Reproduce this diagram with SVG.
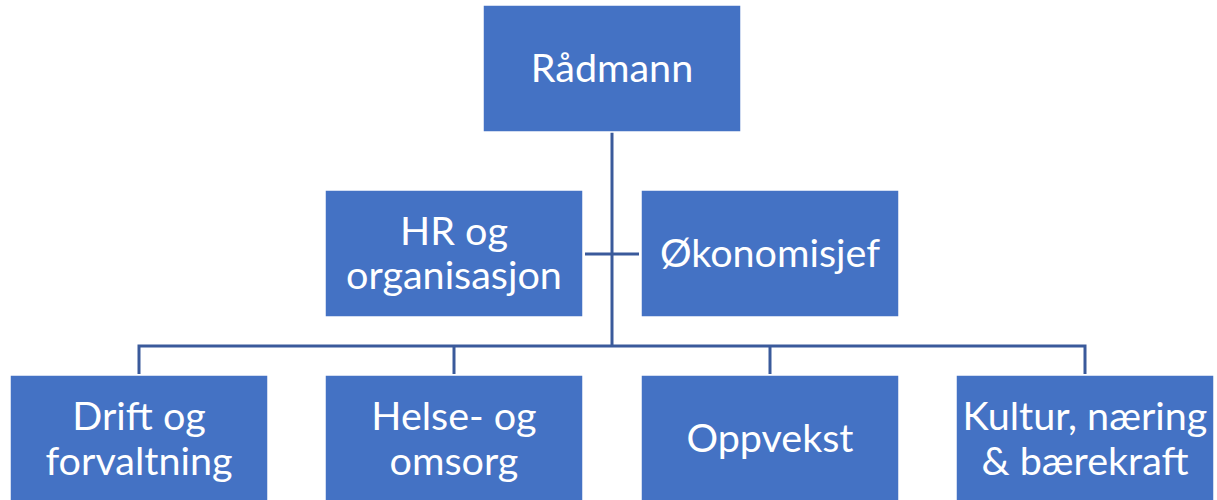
<svg xmlns="http://www.w3.org/2000/svg" width="1217" height="500" viewBox="0 0 1217 500">
<style>
.box{fill:#4472C4;stroke:#ffffff;stroke-width:1.5}
.lbl{font-family:Lato,"Liberation Sans",sans-serif;font-size:39.5px;fill:#ffffff;text-anchor:middle}
.con{stroke:#3A5A9B;stroke-width:3;fill:none}
</style>
<rect width="1217" height="500" fill="#ffffff"/>
<g id="connectors">
<path class="con" d="M612 132 V346"/>
<path class="con" d="M585 254 H639"/>
<path class="con" d="M139 374 V346 H1085 V374"/>
<path class="con" d="M454 346 V374"/>
<path class="con" d="M770 346 V374"/>
</g>
<g id="radmann"><rect class="box" x="483" y="5" width="258" height="127"/><text class="lbl" x="612" y="82">Rådmann</text></g>
<g id="hr"><rect class="box" x="325" y="190" width="258" height="127"/><text class="lbl" x="454" y="245">HR og</text><text class="lbl" x="454" y="289">organisasjon</text></g>
<g id="okonomi"><rect class="box" x="641" y="190" width="258" height="127"/><text class="lbl" x="770" y="267">Økonomisjef</text></g>
<g id="drift"><rect class="box" x="10" y="375" width="258" height="127"/><text class="lbl" x="139" y="430">Drift og</text><text class="lbl" x="139" y="475">forvaltning</text></g>
<g id="helse"><rect class="box" x="325" y="375" width="258" height="127"/><text class="lbl" x="454" y="430">Helse- og</text><text class="lbl" x="454" y="475">omsorg</text></g>
<g id="oppvekst"><rect class="box" x="641" y="375" width="258" height="127"/><text class="lbl" x="770" y="452">Oppvekst</text></g>
<g id="kultur"><rect class="box" x="956" y="375" width="258" height="127"/><text class="lbl" x="1085" y="430">Kultur, næring</text><text class="lbl" x="1085" y="475">&amp; bærekraft</text></g>
</svg>
